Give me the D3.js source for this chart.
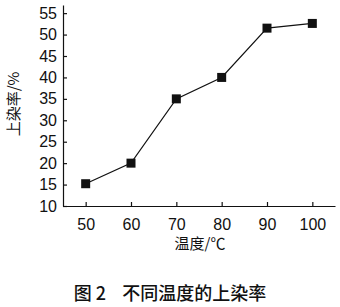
<!DOCTYPE html>
<html>
<head>
<meta charset="utf-8">
<script src="https://cdn.jsdelivr.net/npm/d3@7"></script>
<style>
  body { margin: 0; background: #fff; }
  text { fill: #111; }
</style>
</head>
<body>
<svg id="svg" width="340" height="307"></svg>
<script>
// 数据
const temps = [50, 60, 70, 80, 90, 100];
const rates = [15.2, 20, 35, 40, 51.5, 52.6];
const xTicks = [50, 60, 70, 80, 90, 100];
const yTicks = [10, 15, 20, 25, 30, 35, 40, 45, 50, 55];

const svg = d3.select("#svg");
const mLeft = 63, mRight = 335, mTop = 5, mBottom = 206;

const x = d3.scaleLinear().domain([45, 105]).range([mLeft, mRight]);
const y = d3.scaleLinear().domain([10, 56.9]).range([mBottom, mTop]);

// 坐标轴
const xAxis = d3.axisBottom(x).tickValues(xTicks).tickSize(-4).tickPadding(13).tickSizeOuter(0);
const yAxis = d3.axisLeft(y).tickValues(yTicks).tickSize(-4).tickPadding(6).tickSizeOuter(0);

const gx = svg.append("g").attr("transform", `translate(0,${mBottom})`).call(xAxis);
const gy = svg.append("g").attr("transform", `translate(${mLeft},0)`).call(yAxis);

[gx, gy].forEach(g => {
  g.selectAll("path, line").attr("stroke", "#111").attr("stroke-width", 1.2);
  g.selectAll("text")
   .style("font-family", "'Liberation Sans', Arial, sans-serif")
   .style("font-size", "16px")
   .attr("fill", "#111");
});

// 折线
const line = d3.line().x((d, i) => x(temps[i])).y(d => y(d));
svg.append("path")
   .datum(rates)
   .attr("d", line)
   .attr("fill", "none")
   .attr("stroke", "#111")
   .attr("stroke-width", 1.2);

// 方块标记
const s = 9;
svg.selectAll("rect.pt")
   .data(rates)
   .enter().append("rect")
   .attr("class", "pt")
   .attr("x", (d, i) => x(temps[i]) - s / 2)
   .attr("y", d => y(d) - s / 2)
   .attr("width", s)
   .attr("height", s)
   .attr("fill", "#111");

// 标题和轴标签
const cjk = "'Noto Sans CJK SC', sans-serif";
svg.append("text")
   .attr("x", 200).attr("y", 249)
   .attr("text-anchor", "middle")
   .style("font-family", cjk).style("font-size", "15px")
   .text("温度/℃");

svg.append("text")
   .attr("transform", "translate(19,104) rotate(-90)")
   .attr("text-anchor", "middle")
   .style("font-family", cjk).style("font-size", "15px")
   .text("上染率/%");

svg.append("text")
   .attr("x", 170).attr("y", 300)
   .attr("text-anchor", "middle")
   .style("font-family", cjk).style("font-size", "18px")
   .style("font-weight", "500")
   .style("white-space", "pre")
   .text("图 2    不同温度的上染率");
</script>
</body>
</html>
